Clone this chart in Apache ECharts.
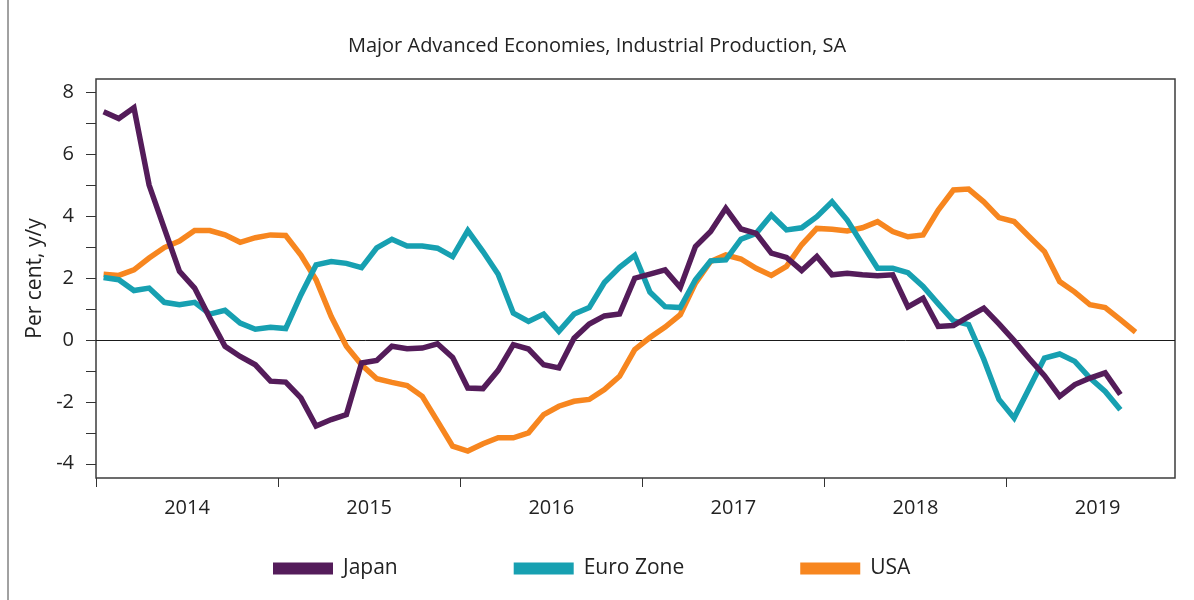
<!DOCTYPE html>
<html>
<head>
<meta charset="utf-8">
<script src="https://cdn.jsdelivr.net/npm/echarts@6/dist/echarts.min.js"></script>
<style>
	html, body { margin: 0; padding: 0; background: #fff; }
	#main { width: 1194px; height: 600px; }
</style>
</head>
<body>
<div id="main"></div>
<script>
// monthly y/y change, first point = Jan 2014
var startYear = 2014;
var seriesNames = ['Japan', 'Euro Zone', 'USA'];
var seriesColors = ['#541c5a', '#17a0b1', '#f7861f'];

var japan = [7.38, 7.16, 7.51, 5.01, 3.61, 2.22, 1.68, 0.71, -0.20, -0.53, -0.80, -1.33,
	-1.36, -1.87, -2.78, -2.57, -2.41, -0.74, -0.66, -0.20, -0.28, -0.26, -0.12, -0.56,
	-1.55, -1.57, -0.98, -0.15, -0.29, -0.80, -0.90, 0.06, 0.52, 0.78, 0.84, 2.00,
	2.13, 2.27, 1.70, 3.02, 3.51, 4.26, 3.59, 3.45, 2.81, 2.67, 2.25, 2.70,
	2.11, 2.16, 2.11, 2.08, 2.11, 1.07, 1.35, 0.44, 0.47, 0.76, 1.03, 0.52,
	-0.02, -0.60, -1.15, -1.82, -1.44, -1.23, -1.06, -1.76];

var euroZone = [2.02, 1.95, 1.60, 1.68, 1.22, 1.14, 1.22, 0.84, 0.96, 0.55, 0.35, 0.41,
	0.37, 1.46, 2.43, 2.54, 2.48, 2.34, 2.98, 3.26, 3.04, 3.04, 2.97, 2.70,
	3.54, 2.86, 2.13, 0.87, 0.60, 0.84, 0.28, 0.84, 1.05, 1.86, 2.35, 2.74,
	1.55, 1.08, 1.05, 1.95, 2.56, 2.59, 3.26, 3.45, 4.04, 3.56, 3.63, 3.99,
	4.47, 3.88, 3.10, 2.32, 2.32, 2.18, 1.73, 1.17, 0.62, 0.50, -0.62, -1.92,
	-2.52, -1.55, -0.58, -0.45, -0.69, -1.23, -1.66, -2.25];

var usa = [2.13, 2.09, 2.27, 2.65, 2.99, 3.20, 3.54, 3.54, 3.40, 3.16, 3.31, 3.40,
	3.38, 2.75, 1.95, 0.76, -0.20, -0.80, -1.25, -1.37, -1.47, -1.82, -2.62, -3.43,
	-3.59, -3.35, -3.16, -3.16, -3.00, -2.41, -2.14, -1.98, -1.92, -1.60, -1.17, -0.31,
	0.08, 0.42, 0.82, 1.84, 2.54, 2.75, 2.62, 2.32, 2.09, 2.38, 3.08, 3.61,
	3.58, 3.53, 3.63, 3.83, 3.51, 3.34, 3.40, 4.20, 4.85, 4.88, 4.47, 3.96,
	3.83, 3.34, 2.86, 1.89, 1.55, 1.14, 1.05, 0.66, 0.26];

var yearTicks = [0, 12, 24, 36, 48, 60];        // month index of each January
var yearLabels = [6, 18, 30, 42, 54, 66];       // mid-year label positions
var yTicks = [-4, -3, -2, -1, 0, 1, 2, 3, 4, 5, 6, 7, 8];
var yLabels = [-4, -2, 0, 2, 4, 6, 8];

var fontName = 'Open Sans';

function toPoints(arr) {
	// each value sits in the middle of its month
	return arr.map(function(v, i) {
		return [i + 0.5, v];
	});
}

var myChart = echarts.init(document.getElementById('main'), null, { renderer : 'canvas' });

var allData = [japan, euroZone, usa];
var series = [];
for (var k = 0; k < seriesNames.length; k++) {
	var s = {
		name : seriesNames[k],
		type : 'line',
		data : toPoints(allData[k]),
		showSymbol : false,
		symbol : 'none',
		z : 10 - k,
		lineStyle : {
			width : 5.5,
			color : seriesColors[k],
			join : 'miter'
		},
		itemStyle : {
			color : seriesColors[k]
		},
		animation : false
	};
	if (k == 0) {
		s.markLine = {
			silent : true,
			symbol : 'none',
			z : 1,
			label : { show : false },
			lineStyle : { color : '#1a1a1a', width : 1, type : 'solid' },
			data : [ { yAxis : 0 } ]
		};
	}
	series.push(s);
}

var option = {
	animation : false,
	textStyle : {
		fontFamily : fontName
	},
	title : {
		text : 'Major Advanced Economies, Industrial Production, SA',
		left : 'center',
		top : 31,
		textStyle : {
			fontFamily : fontName,
			fontSize : 20,
			fontWeight : 'normal',
			color : '#222'
		}
	},
	legend : {
		data : seriesNames,
		top : 553,
		left : 268,
		icon : 'rect',
		itemWidth : 60,
		itemHeight : 12,
		itemGap : 116,
		textStyle : {
			fontFamily : fontName,
			fontSize : 21,
			color : '#222',
			padding : [0, 0, 0, 5]
		}
	},
	grid : {
		left : 96,
		right : 19,
		top : 79,
		bottom : 122,
		show : true,
		borderColor : '#3c3c3c',
		borderWidth : 1.5,
		backgroundColor : '#fff'
	},
	xAxis : {
		type : 'value',
		min : 0,
		max : 71.1,
		splitLine : { show : false },
		axisLine : { show : false, onZero : false },
		axisTick : {
			show : true,
			customValues : yearTicks,
			length : 9,
			inside : false,
			lineStyle : { color : '#333', width : 1 }
		},
		axisLabel : {
			customValues : yearLabels,
			margin : 20,
			fontFamily : fontName,
			fontSize : 20,
			color : '#222',
			formatter : function(v) {
				return String(startYear + Math.round((v - 6) / 12));
			}
		}
	},
	yAxis : {
		type : 'value',
		min : -4.46,
		max : 8.44,
		name : 'Per cent, y/y',
		nameLocation : 'middle',
		nameGap : 48,
		nameRotate : 90,
		nameTextStyle : {
			fontFamily : fontName,
			fontSize : 21,
			color : '#222'
		},
		splitLine : { show : false },
		axisLine : { show : false },
		axisTick : {
			show : true,
			customValues : yTicks,
			length : 10,
			lineStyle : { color : '#333', width : 1 }
		},
		axisLabel : {
			customValues : yLabels,
			margin : 22,
			fontFamily : fontName,
			fontSize : 20,
			color : '#222'
		}
	},
	graphic : [ {
		type : 'line',
		shape : { x1 : 8, y1 : 0, x2 : 8, y2 : 600 },
		style : { stroke : '#444', lineWidth : 1 },
		silent : true
	} ],
	series : series
};

myChart.setOption(option);
</script>
</body>
</html>
